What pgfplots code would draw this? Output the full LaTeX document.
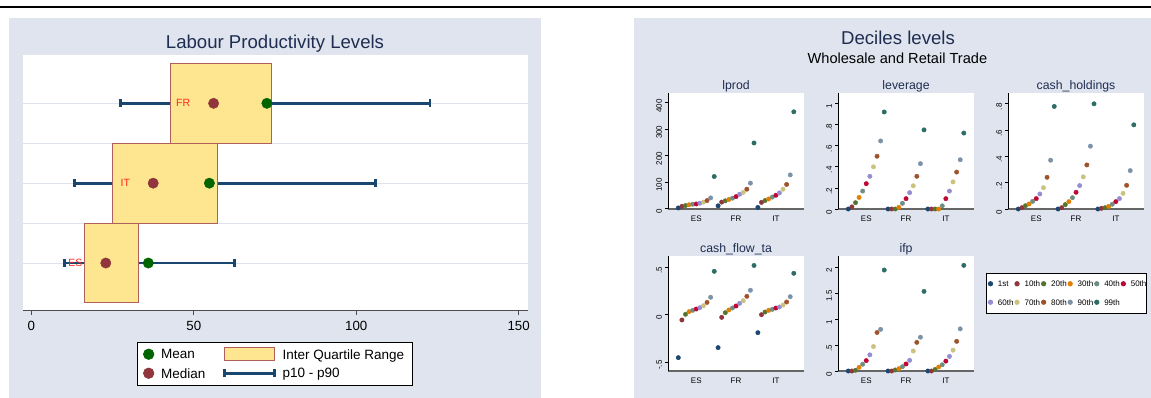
\documentclass[border=0pt]{standalone}
\usepackage{pgfplots}
\pgfplotsset{compat=1.18}
\usepackage{pgfplotstable}
\usepackage{fontspec}
\setmainfont{Liberation Sans}
\pgfplotsset{/pgf/number format/assume math mode=true}

\definecolor{panelbg}{RGB}{224,228,239}
\definecolor{gridc}{RGB}{222,226,237}
\definecolor{titlec}{RGB}{30,45,80}
\definecolor{navyc}{RGB}{26,71,111}
\definecolor{medc}{RGB}{144,53,59}
\definecolor{meanc}{RGB}{0,100,0}
\definecolor{boxc}{RGB}{254,230,145}
\definecolor{boxbd}{RGB}{176,96,90}
\definecolor{labc}{RGB}{255,40,30}
\definecolor{dA}{RGB}{26,71,111}
\definecolor{dB}{RGB}{144,53,59}
\definecolor{dC}{RGB}{85,117,47}
\definecolor{dD}{RGB}{227,126,0}
\definecolor{dE}{RGB}{110,142,132}
\definecolor{dF}{RGB}{193,5,52}
\definecolor{dG}{RGB}{147,141,210}
\definecolor{dH}{RGB}{202,194,126}
\definecolor{dI}{RGB}{160,82,45}
\definecolor{dJ}{RGB}{123,146,168}
\definecolor{dK}{RGB}{45,109,102}

\pgfplotstableread{
cat p1 p10 p20 p30 p40 p50 p60 p70 p80 p90 p99
1 2 8 11 14 16 17 20 24 30 40 121
2 10 24 29 34 39 45 54 61 73 96 248
3 4 23 30 36 43 50 59 73 91 127 366
}\tabLprod
\pgfplotstableread{
cat p1 p10 p20 p30 p40 p50 p60 p70 p80 p90 p99
1 0 0.02 0.06 0.11 0.17 0.24 0.31 0.40 0.50 0.645 0.92
2 0 0 0 0.016 0.054 0.098 0.155 0.22 0.31 0.43 0.75
3 0 0 0 0 0.03 0.098 0.17 0.257 0.35 0.467 0.72
}\tabLev
\pgfplotstableread{
cat p1 p10 p20 p30 p40 p50 p60 p70 p80 p90 p99
1 0 0.01 0.025 0.038 0.058 0.079 0.114 0.162 0.241 0.371 0.78
2 0 0.01 0.033 0.056 0.086 0.127 0.178 0.244 0.335 0.478 0.80
3 0 0.005 0.01 0.02 0.036 0.056 0.079 0.119 0.18 0.292 0.64
}\tabCash
\pgfplotstableread{
cat p1 p10 p20 p30 p40 p50 p60 p70 p80 p90 p99
1 -0.454 -0.056 0.004 0.032 0.046 0.06 0.074 0.095 0.13 0.184 0.458
2 -0.348 -0.028 0.021 0.05 0.071 0.092 0.12 0.148 0.194 0.258 0.52
3 -0.19 0.0 0.028 0.046 0.056 0.07 0.081 0.102 0.134 0.19 0.437
}\tabCf
\pgfplotstableread{
cat p1 p10 p20 p30 p40 p50 p60 p70 p80 p90 p99
1 0 0 0.013 0.07 0.13 0.2 0.31 0.47 0.74 0.80 1.94
2 0 0 0.02 0.045 0.083 0.135 0.205 0.385 0.55 0.65 1.53
3 0 0 0.03 0.077 0.12 0.19 0.28 0.40 0.57 0.81 2.03
}\tabIfp

\newcommand{\decpt}[4]{\addplot[only marks, mark=*, mark size=2.2pt, color=#1, forget plot] table[x expr=\thisrow{cat}#2, y=#3]{#4};}
\newcommand{\deciles}[1]{%
\decpt{dA}{-0.4515}{p1}{#1}
\decpt{dB}{-0.3612}{p10}{#1}
\decpt{dC}{-0.2709}{p20}{#1}
\decpt{dD}{-0.1806}{p30}{#1}
\decpt{dE}{-0.0903}{p40}{#1}
\decpt{dF}{+0}{p50}{#1}
\decpt{dG}{+0.0903}{p60}{#1}
\decpt{dH}{+0.1806}{p70}{#1}
\decpt{dI}{+0.2709}{p80}{#1}
\decpt{dJ}{+0.3612}{p90}{#1}
\decpt{dK}{+0.4515}{p99}{#1}
}
\newcommand{\decleg}[2]{\addlegendimage{legend image code/.code={\path[draw=none] (0pt,-9.25pt) rectangle (11pt,9.25pt); \fill[#1] (3.5pt,0pt) circle (2.1pt);}}\addlegendentry{#2}}

\pgfplotsset{decax/.style={
  anchor=north west, scale only axis, width=135.3pt,
  xmin=0.3, xmax=3.7,
  axis x line*=bottom, axis y line*=left,
  axis background/.style={fill=white},
  xtick={1,2,3}, xticklabels={ES,FR,IT},
  x axis line style={draw=black!60, line width=1.8pt},
  y axis line style={draw=black, line width=0.9pt},
  tick align=outside, major tick length=3pt,
  xtick style={draw=none},
  ytick style={draw=black, line width=0.8pt},
  tick label style={font=\fontsize{8}{9}\selectfont},
  yticklabel style={rotate=90, anchor=south, xshift=-3pt},
  xticklabel style={yshift=0pt},
  title style={at={(0.5,1)}, anchor=base, yshift=-2pt, font=\fontsize{12.3}{14}\selectfont, text=titlec},
  clip=false,
}}

\begin{document}
\begin{tikzpicture}
\useasboundingbox (0,0) rectangle (1151pt,-398pt);
\fill[white] (0,0) rectangle (1151pt,-398pt);
\fill[black] (0,-6pt) rectangle (1151pt,-8.3pt);
\fill[panelbg] (9pt,-17.7pt) rectangle (541pt,-398pt);
\fill[panelbg] (634pt,-17.7pt) rectangle (1151pt,-398pt);

% ---------------- left chart ----------------
\begin{axis}[
  at={(22.5pt,-55pt)}, anchor=north west,
  scale only axis, width=505pt, height=255.7pt,
  xmin=-2.74, xmax=152.74, ymin=0.403, ymax=3.605,
  axis x line*=bottom, axis y line*=left,
  y axis line style={draw=none},
  axis background/.style={fill=white},
  xtick={0,50,100,150},
  ytick={1,1.5,2,2.5,3}, yticklabels={},
  ytick style={draw=none},
  ymajorgrids,
  grid style={draw=gridc, line width=0.9pt},
  tick align=outside, major tick length=4pt,
  x axis line style={draw=black!70, line width=1.3pt},
  xtick style={draw=black!70, line width=1pt},
  xticklabel style={font=\fontsize{13.3}{15}\selectfont, yshift=-3pt},
  title={Labour Productivity Levels},
  title style={at={(0.5,1)}, anchor=base, yshift=0.5pt, font=\fontsize{18.6}{22}\selectfont, text=titlec},
  legend columns=2,
  legend style={at={(0.2273,-0.1205)}, anchor=north west, draw=black, line width=0.8pt, fill=white,
    font=\fontsize{13.5}{16}\selectfont, inner xsep=0pt, inner ysep=2.8pt,
    nodes={draw=none, fill=none, inner sep=0pt, text depth=0pt}, cells={anchor=west}, row sep=0pt, column sep=0pt},
]
% p10 - p90
\addplot[navyc, line width=2.8pt, mark=|, mark size=4.15pt, mark options={line width=2.6pt}, forget plot] coordinates {(27.4,3) (122.7,3)};
\addplot[navyc, line width=2.8pt, mark=|, mark size=4.15pt, mark options={line width=2.6pt}, forget plot] coordinates {(13.2,2) (106.0,2)};
\addplot[navyc, line width=2.8pt, mark=|, mark size=4.15pt, mark options={line width=2.6pt}, forget plot] coordinates {(10.2,1) (62.6,1)};
% inter quartile range
\addplot[fill=boxc, draw=boxbd, line width=1pt, forget plot] coordinates {(42.8,2.5) (73.8,2.5) (73.8,3.5) (42.8,3.5)} -- cycle;
\addplot[fill=boxc, draw=boxbd, line width=1pt, forget plot] coordinates {(25.0,1.5) (57.3,1.5) (57.3,2.5) (25.0,2.5)} -- cycle;
\addplot[fill=boxc, draw=boxbd, line width=1pt, forget plot] coordinates {(16.4,0.5) (33.1,0.5) (33.1,1.5) (16.4,1.5)} -- cycle;
% median and mean
\addplot[only marks, mark=*, mark size=5.2pt, color=medc, forget plot] coordinates {(56.1,3) (37.5,2) (22.9,1)};
\addplot[only marks, mark=*, mark size=5.2pt, color=meanc, forget plot] coordinates {(72.5,3) (54.8,2) (36.0,1)};
% labels
\node[anchor=west, inner sep=0pt, text=labc, font=\fontsize{10.5}{12}\selectfont] at (axis cs:44.5,3) {FR};
\node[anchor=west, inner sep=0pt, text=labc, font=\fontsize{10.5}{12}\selectfont] at (axis cs:27.4,2) {IT};
\node[anchor=west, inner sep=0pt, text=labc, font=\fontsize{10.5}{12}\selectfont] at (axis cs:11.3,1) {ES};
% legend
\addlegendimage{legend image code/.code={\path[draw=none] (0pt,-9.5pt) rectangle (23.4pt,9.5pt); \fill[meanc] (11pt,0pt) circle (5.2pt);}}
\addlegendentry{Mean}
\addlegendimage{legend image code/.code={\path[draw=none] (0pt,-9.5pt) rectangle (77.3pt,9.5pt); \filldraw[fill=boxc, draw=boxbd, line width=1pt] (19.3pt,-6.5pt) rectangle (69.3pt,6.5pt);}}
\addlegendentry{Inter Quartile Range\kern8.6pt}
\addlegendimage{legend image code/.code={\path[draw=none] (0pt,-9.5pt) rectangle (23.4pt,9.5pt); \fill[medc] (11pt,0pt) circle (5.2pt);}}
\addlegendentry{Median}
\addlegendimage{legend image code/.code={\path[draw=none] (0pt,-9.5pt) rectangle (77.3pt,9.5pt); \draw[navyc, line width=2.8pt] (19.3pt,0pt) -- (69.3pt,0pt); \draw[navyc, line width=2.6pt] (19.3pt,-4.15pt) -- (19.3pt,4.15pt); \draw[navyc, line width=2.6pt] (69.3pt,-4.15pt) -- (69.3pt,4.15pt);}}
\addlegendentry{p10 - p90}
\end{axis}

% ---------------- right chart ----------------
\node[anchor=base, font=\fontsize{18.6}{22}\selectfont, text=titlec] at (898pt,-45pt) {Deciles levels};
\node[anchor=base, font=\fontsize{14.6}{17}\selectfont, text=black] at (897.4pt,-64pt) {Wholesale and Retail Trade};

\begin{axis}[decax, at={(668.4pt,-93.3pt)}, height=115.7pt, ymin=-2, ymax=436,
  ytick={0,100,200,300,400}, yticklabels={0,100,200,300,400}, title={lprod}]
\deciles{\tabLprod}
\end{axis}

\begin{axis}[decax, at={(838.4pt,-93.3pt)}, height=115.7pt, ymin=0, ymax=1.097,
  ytick={0,0.2,0.4,0.6,0.8,1}, yticklabels={0,.2,.4,.6,.8,1}, title={leverage}]
\deciles{\tabLev}
\end{axis}

\begin{axis}[decax, at={(1008.4pt,-93.3pt)}, height=115.7pt, ymin=0, ymax=0.88,
  ytick={0,0.2,0.4,0.6,0.8}, yticklabels={0,.2,.4,.6,.8}, title={cash\_holdings}]
\deciles{\tabCash}
\end{axis}

\begin{axis}[decax, at={(668.4pt,-256pt)}, height=115pt, ymin=-0.595, ymax=0.62,
  ytick={-0.5,0,0.5}, yticklabels={-.5,0,.5}, title={cash\_flow\_ta}]
\deciles{\tabCf}
\end{axis}

\begin{axis}[decax, at={(838.4pt,-256pt)}, height=115pt, ymin=0, ymax=2.21,
  ytick={0,0.5,1,1.5,2}, yticklabels={0,.5,1,1.5,2}, title={ifp},
  legend columns=6,
  legend style={at={(1.0945,0.8565)}, anchor=north west, draw=black, line width=1pt, fill=white,
    font=\fontsize{8}{9}\selectfont, inner xsep=0pt, inner ysep=1.5pt,
    nodes={draw=none, fill=none, inner sep=0pt, text depth=0pt}, cells={anchor=west}, row sep=0pt, column sep=0pt},
]
\deciles{\tabIfp}
\decleg{dA}{1st}
\decleg{dB}{10th}
\decleg{dC}{20th}
\decleg{dD}{30th}
\decleg{dE}{40th}
\decleg{dF}{50th}
\decleg{dG}{60th}
\decleg{dH}{70th}
\decleg{dI}{80th}
\decleg{dJ}{90th}
\decleg{dK}{99th}
\end{axis}
\end{tikzpicture}
\end{document}
